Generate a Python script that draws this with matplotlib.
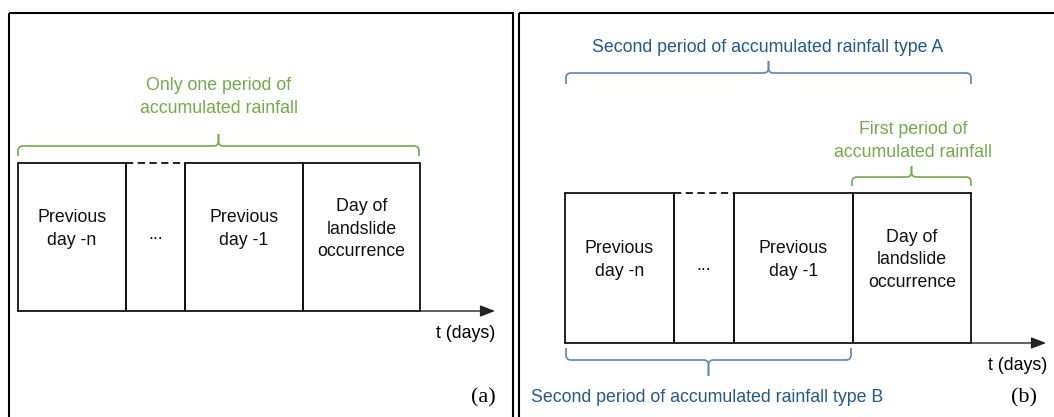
import matplotlib
matplotlib.use("Agg")
from matplotlib import pyplot as plt
from matplotlib.path import Path
from matplotlib.patches import PathPatch, Rectangle

# labels of the day boxes, left to right
box_labels = ["Previous\nday -n", "...", "Previous\nday -1", "Day of\nlandslide\noccurrence"]
axis_label = "t (days)"
panel_tags = ["(a)", "(b)"]

text_a = "Only one period of\naccumulated rainfall"
text_b_first = "First period of\naccumulated rainfall"
text_b_type_a = "Second period of accumulated rainfall type A"
text_b_type_b = "Second period of accumulated rainfall type B"

GREEN = "#70AD47"
BLUE_TEXT = "#1F5A96"
BLUE_LINE = "#5B86B8"
SANS = "Liberation Sans"
SERIF = "Liberation Serif"
FS = 12.8
LS = 1.42


def main():
    fig = plt.figure(figsize=(10.54, 4.17), dpi=100)
    ax = fig.add_axes([0, 0, 1, 1])
    ax.set_xlim(0, 1054)
    ax.set_ylim(417, 0)
    ax.axis("off")

    # panel frames
    ax.add_patch(Rectangle((8.5, 12.5), 504, 420, fill=False, lw=1.5, ec="black"))
    ax.add_patch(Rectangle((518.5, 12.5), 560, 420, fill=False, lw=1.5, ec="black"))

    # panel (a)
    edges_a = [18, 126, 185, 303, 420]
    draw_boxes(ax, edges_a, 163, 311, 495)
    draw_brace(ax, 18, 419, 156, 146, 134, GREEN)
    ax.text(219, 97, text_a, color=GREEN, ha="center", va="center",
            fontsize=FS, family=SANS, linespacing=LS)
    ax.text(495, 333, axis_label, ha="right", va="center", fontsize=FS, family=SANS)
    ax.text(496, 398, panel_tags[0], ha="right", va="center", fontsize=16, family=SERIF)

    # panel (b)
    edges_b = [565, 674, 734, 853, 971]
    draw_boxes(ax, edges_b, 193, 343, 1046)
    draw_brace(ax, 566, 971, 84, 73, 61, BLUE_LINE)
    ax.text(768, 47, text_b_type_a, color=BLUE_TEXT, ha="center", va="center",
            fontsize=FS, family=SANS)
    draw_brace(ax, 852, 971, 186, 177, 166, GREEN)
    ax.text(913, 141, text_b_first, color=GREEN, ha="center", va="center",
            fontsize=FS, family=SANS, linespacing=LS)
    draw_brace(ax, 566, 851, 348, 360, 376, BLUE_LINE)
    ax.text(707, 398, text_b_type_b, color=BLUE_TEXT, ha="center", va="center",
            fontsize=FS, family=SANS)
    ax.text(1047, 366, axis_label, ha="right", va="center", fontsize=FS, family=SANS)
    ax.text(1037, 398, panel_tags[1], ha="right", va="center", fontsize=16, family=SERIF)

    fig.savefig("out.png", dpi=100)


def draw_boxes(ax, edges, top, bottom, arrow_end):
    mid = (top + bottom) / 2 - 8
    for i, label in enumerate(box_labels):
        x0, x1 = edges[i], edges[i + 1]
        ax.plot([x0, x0], [top, bottom], color="#111111", lw=1.3, solid_capstyle="butt")
        ax.plot([x1, x1], [top, bottom], color="#111111", lw=1.3, solid_capstyle="butt")
        dots = label == "..."
        ax.plot([x0, x1], [top, top], color="#111111", lw=1.3,
                ls=(0, (4, 2.5)) if dots else "-")
        ax.text((x0 + x1) / 2, mid + 5 if dots else mid, label, ha="center", va="center",
                fontsize=FS, family=SANS, linespacing=LS, color="#111111")
    ax.plot([edges[0], edges[-1]], [bottom, bottom], color="#111111", lw=1.3)
    ax.annotate("", xy=(arrow_end, bottom), xytext=(edges[-1], bottom),
                arrowprops=dict(arrowstyle="-|>,head_length=0.9,head_width=0.35",
                                lw=1.0, color="#222222", shrinkA=0, shrinkB=0))


def draw_brace(ax, x0, x1, y_end, y_h, y_tip, color):
    xm = (x0 + x1) / 2
    r = 5
    s = 1 if y_end > y_h else -1
    for a, sign in ((x0, 1), (x1, -1)):
        verts = [(a, y_end), (a, y_h + s * r), (a, y_h), (a + sign * r, y_h),
                 (xm - sign * r, y_h), (xm, y_h), (xm, y_h - s * r), (xm, y_tip)]
        codes = [Path.MOVETO, Path.LINETO, Path.CURVE3, Path.CURVE3,
                 Path.LINETO, Path.CURVE3, Path.CURVE3, Path.LINETO]
        ax.add_patch(PathPatch(Path(verts, codes), fill=False, ec=color, lw=1.2))


if __name__ == "__main__":
    main()
